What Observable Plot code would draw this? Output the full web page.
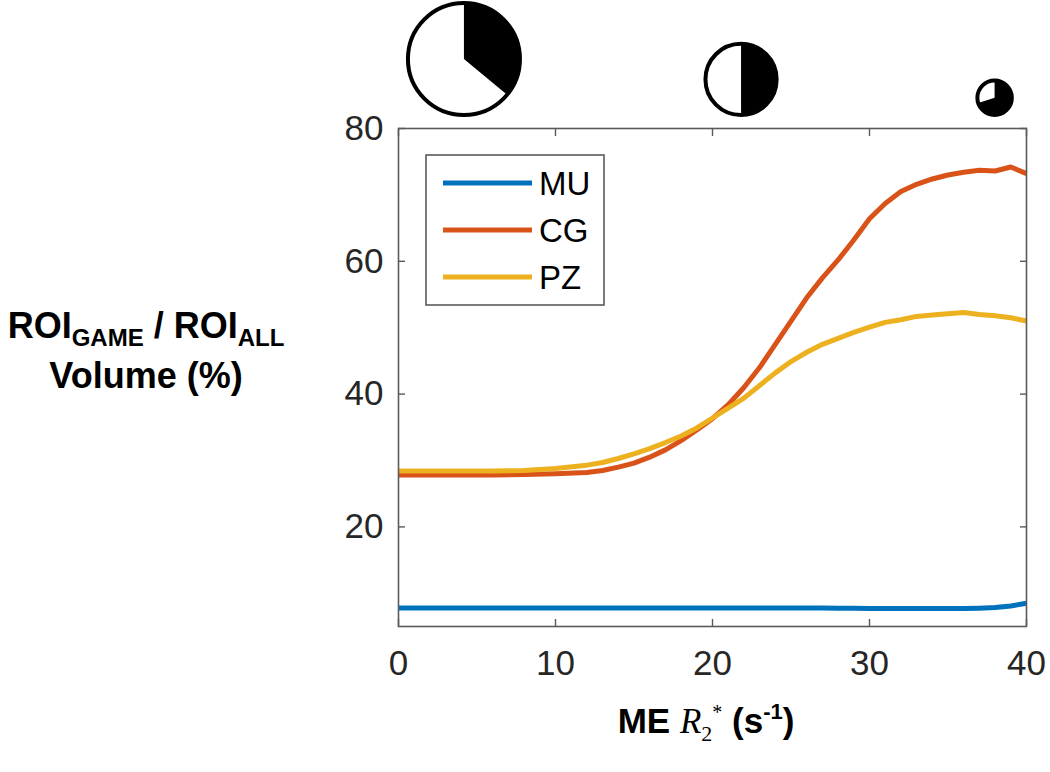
<!DOCTYPE html>
<html>
<head>
<meta charset="utf-8">
<script src="https://cdn.jsdelivr.net/npm/d3@7"></script>
<script src="https://cdn.jsdelivr.net/npm/@observablehq/plot@0.6"></script>
<style>
  html, body { margin: 0; padding: 0; background: white; }
  #chart { width: 1050px; height: 772px; }
</style>
</head>
<body>
<div id="chart"></div>
<script>
// ---- data ----
const seriesNames = ["MU", "CG", "PZ"];
const seriesColors = ["#0072BD", "#D95319", "#EDB120"];

const r2Values = [0, 2, 4, 6, 8, 10, 12, 13, 14, 15, 16, 17, 18, 19, 20, 21, 22, 23, 24, 25, 26, 27, 28, 29, 30, 31, 32, 33, 34, 35, 36, 37, 38, 39, 40];

const muValues = [7.8, 7.8, 7.8, 7.8, 7.8, 7.8, 7.8, 7.8, 7.8, 7.8, 7.8, 7.8, 7.8, 7.8, 7.8, 7.8, 7.8, 7.8, 7.8, 7.8, 7.8, 7.8, 7.75, 7.75, 7.7, 7.7, 7.7, 7.7, 7.7, 7.7, 7.7, 7.75, 7.85, 8.1, 8.5];

const cgValues = [27.8, 27.8, 27.8, 27.8, 27.9, 28.0, 28.2, 28.5, 29.0, 29.6, 30.5, 31.6, 33.0, 34.6, 36.3, 38.4, 41.0, 44.0, 47.5, 51.0, 54.5, 57.5, 60.2, 63.2, 66.4, 68.7, 70.5, 71.6, 72.4, 73.0, 73.4, 73.7, 73.6, 74.2, 73.2];

const pzValues = [28.4, 28.4, 28.4, 28.4, 28.5, 28.8, 29.3, 29.7, 30.3, 31.0, 31.8, 32.7, 33.7, 34.9, 36.4, 37.9, 39.4, 41.3, 43.2, 44.9, 46.3, 47.5, 48.4, 49.3, 50.1, 50.8, 51.2, 51.7, 51.9, 52.1, 52.3, 52.0, 51.8, 51.5, 51.0];

const xTicks = [0, 10, 20, 30, 40];
const yTicks = [20, 40, 60, 80];

// pies above the plot: position on the x axis, black fraction, relative size
const pieX = [4.2, 21.85, 38.0];
const pieBlack = [0.36, 0.5, 0.7];
const pieSize = [100, 42, 11];

// ---- tables built from the arrays ----
const valuesBySeries = [muValues, cgValues, pzValues];
const lineData = [];
seriesNames.forEach((name, s) => {
  r2Values.forEach((x, i) => lineData.push({series: name, x, y: valuesBySeries[s][i]}));
});
const pies = pieX.map((x, i) => ({x, black: pieBlack[i], size: pieSize[i]}));

const frameColor = "#5a5a5a";
const textColor = "#262626";
const sans = "'Liberation Sans', Arial, sans-serif";
const serif = "'Liberation Serif', 'DejaVu Serif', serif";

function pieRender(index, scales, values, dimensions) {
  const g = d3.create("svg:g");
  const baseline = scales.y(80) - 11;
  for (const i of index) {
    const cx = values.x[i], r = values.r[i];
    const cy = baseline - r;
    const sw = 4;
    const gi = g.append("g").attr("transform", `translate(${cx},${cy})`);
    gi.append("circle").attr("r", r - sw / 2).attr("fill", "white").attr("stroke", "none");
    gi.append("path")
      .attr("d", d3.arc()({innerRadius: 0, outerRadius: r - sw / 2, startAngle: 0, endAngle: pies[i].black * 2 * Math.PI}))
      .attr("fill", "black");
    gi.append("circle").attr("r", r - sw / 2).attr("fill", "none").attr("stroke", "black").attr("stroke-width", sw);
  }
  return g.node();
}

const plot = Plot.plot({
  width: 1050,
  height: 772,
  marginLeft: 398,
  marginRight: 24,
  marginTop: 128,
  marginBottom: 146,
  x: {domain: [0, 40]},
  y: {domain: [5, 80]},
  r: {domain: [0, 100], range: [0, 58]},
  color: {domain: seriesNames, range: seriesColors},
  style: {fontFamily: sans, fontSize: "35px", color: textColor, background: "white", overflow: "visible"},
  marks: [
    Plot.line(lineData, {x: "x", y: "y", z: "series", stroke: "series", strokeWidth: 5, strokeLinejoin: "round", strokeLinecap: "butt"}),
    Plot.frame({stroke: frameColor, strokeWidth: 1.6}),
    Plot.axisX(xTicks, {anchor: "bottom", tickSize: -7, text: null, label: null, stroke: frameColor, strokeWidth: 1.4}),
    Plot.axisX(xTicks, {anchor: "top", tickSize: -7, text: null, label: null, stroke: frameColor, strokeWidth: 1.4}),
    Plot.axisY(yTicks, {anchor: "left", tickSize: -7, text: null, label: null, stroke: frameColor, strokeWidth: 1.4}),
    Plot.axisY(yTicks, {anchor: "right", tickSize: -7, text: null, label: null, stroke: frameColor, strokeWidth: 1.4}),
    Plot.axisX(xTicks, {anchor: "bottom", tickSize: 0, tickPadding: 24, label: null, fill: textColor}),
    Plot.axisY(yTicks, {anchor: "left", tickSize: 0, tickPadding: 15, label: null, fill: textColor}),
    Plot.dot(pies, {x: "x", r: "size", render: pieRender})
  ]
});

document.getElementById("chart").appendChild(plot);

const svg = d3.select(plot);

// legend inside the plot area
const leg = svg.append("g").attr("text-anchor", "start");
leg.append("rect").attr("x", 426).attr("y", 155).attr("width", 178).attr("height", 150)
  .attr("fill", "white").attr("stroke", frameColor).attr("stroke-width", 1.6);
seriesNames.forEach((name, i) => {
  const y = 183 + i * 47;
  leg.append("line").attr("x1", 443).attr("x2", 532).attr("y1", y).attr("y2", y)
    .attr("stroke", seriesColors[i]).attr("stroke-width", 5);
  leg.append("text").attr("x", 539).attr("y", y).attr("dy", "0.36em")
    .attr("text-anchor", "start")
    .attr("font-family", sans).attr("font-size", 33)
    .attr("fill", "black").text(name);
});

// y-axis title (two lines, with subscripts)
const yl = svg.append("g").attr("font-family", sans)
  .attr("font-weight", "bold").attr("fill", "black").attr("text-anchor", "middle");
const yl1 = yl.append("text").attr("x", 146).attr("y", 338).attr("font-size", 36);
yl1.append("tspan").text("ROI");
yl1.append("tspan").attr("font-size", 24).attr("dy", 8).text("GAME");
yl1.append("tspan").attr("dy", -8).text(" / ROI");
yl1.append("tspan").attr("font-size", 24).attr("dy", 8).text("ALL");
yl.append("text").attr("x", 146).attr("y", 388).attr("font-size", 36).text("Volume (%)");

// x-axis title
const xl = svg.append("text").attr("x", 706).attr("y", 733).attr("text-anchor", "middle")
  .attr("font-family", sans).attr("font-weight", "bold")
  .attr("font-size", 35).attr("fill", "black");
xl.append("tspan").text("ME ");
xl.append("tspan").attr("font-family", serif).attr("font-style", "italic").attr("font-weight", "normal").text("R");
xl.append("tspan").attr("font-family", serif).attr("font-weight", "normal").attr("font-size", 22).attr("dy", 8).text("2");
xl.append("tspan").attr("font-family", serif).attr("font-weight", "normal").attr("font-size", 20).attr("dx", 0).attr("dy", -22).text("*");
xl.append("tspan").attr("dy", 14).text(" (s");
xl.append("tspan").attr("font-size", 22).attr("dy", -14).text("-1");
xl.append("tspan").attr("dy", 14).text(")");
</script>
</body>
</html>
